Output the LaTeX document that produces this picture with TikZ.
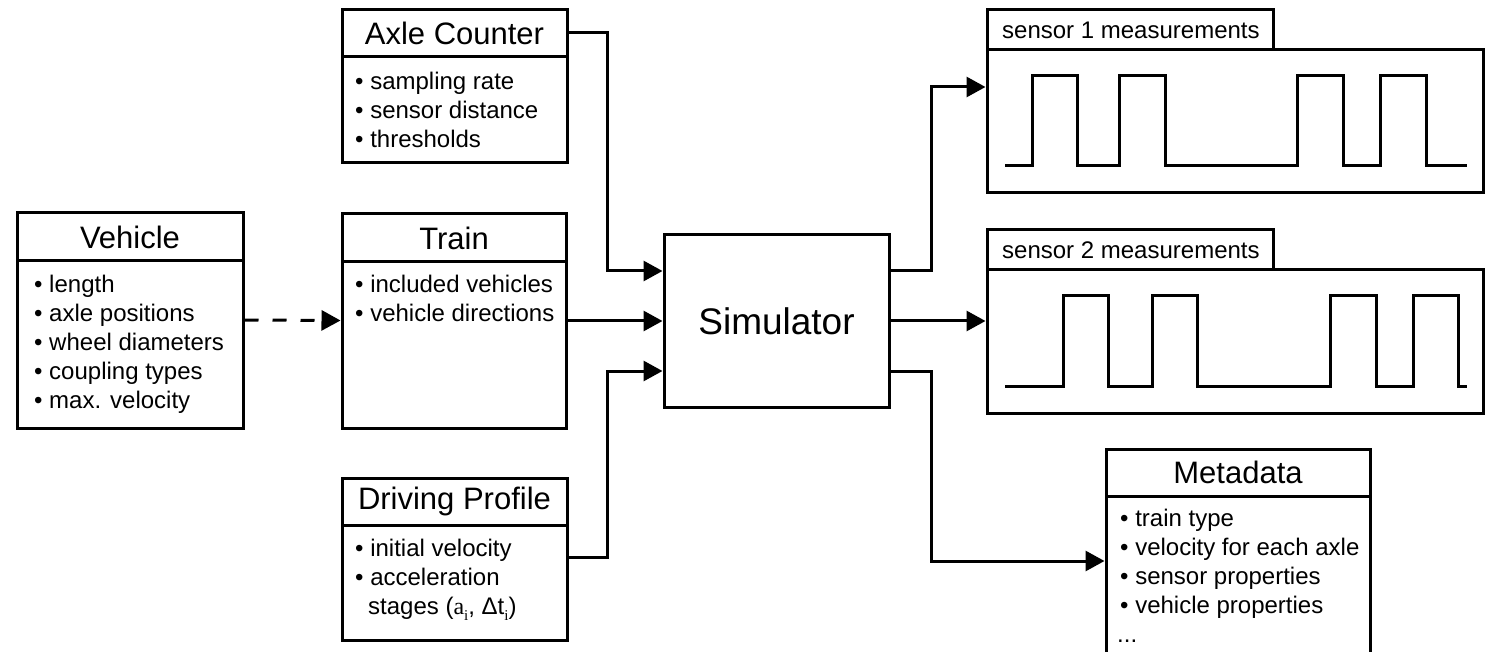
\documentclass[tikz,border=0pt]{standalone}
\usepackage{fontspec}
\setmainfont{Liberation Sans}
\newfontfamily\mathlike{Liberation Serif}
\usetikzlibrary{arrows.meta}

\newcommand{\sub}[1]{\raisebox{-0.22em}{\mathlike\fontsize{15}{15}\selectfont #1}}

\tikzset{
  box/.style={draw, line width=3pt, inner sep=0pt, fill=white},
  titlebox/.style={box, font=\fontsize{31}{36}\selectfont},
  tabbox/.style={box, font=\fontsize{24}{29}\selectfont},
  bodybox/.style={box},
  items/.style={anchor=north west, inner sep=0pt, align=left,
                font=\fontsize{24}{29}\selectfont},
  arr/.style={line width=3pt, -{Triangle[length=19pt,width=20pt]}},
  dasharr/.style={arr, dash pattern=on 14pt off 14pt},
  signal/.style={line width=3pt},
}

% box spanning (x1,y1)--(x2,y2) in pixel coordinates, y downwards
\newcommand{\boxat}[6]{%
  \node[#2, minimum width={#5-#3}, minimum height={#6-#4}]
    (#1) at ({(#3+#5)/2},{(#4+#6)/2}) {};}

\begin{document}
\begin{tikzpicture}[x=1pt, y=-1pt]
\clip (0,0) rectangle (1494,652);
\fill[white] (0,0) rectangle (1494,652);

% ---------- Vehicle ----------
\node[titlebox, minimum width=226pt, minimum height=48pt] (vtitle) at (130,237) {Vehicle};
\node[bodybox, minimum width=226pt, minimum height=167pt] (vbody) at (130,344.5) {};
\node[items] (vitems) at (34,271.7) {\strut• length\\• axle positions\\• wheel diameters\\• coupling types\\• max. velocity};

% ---------- Train ----------
\node[titlebox, minimum width=224pt, minimum height=48pt] (ttitle) at (454,238) {Train};
\node[bodybox, minimum width=224pt, minimum height=166pt] (tbody) at (454,345) {};
\node[items] (titems) at (355,271.7) {\strut• included vehicles\\• vehicle directions};

% ---------- Axle Counter ----------
\node[titlebox, minimum width=225pt, minimum height=47pt] (atitle) at (454.5,33.5) {Axle Counter};
\node[bodybox, minimum width=225pt, minimum height=106pt] (abody) at (454.5,110) {};
\node[items] (aitems) at (355,68.7) {\strut• sampling rate\\• sensor distance\\• thresholds};

% ---------- Driving Profile ----------
\node[titlebox, minimum width=225pt, minimum height=47pt] (dtitle) at (454.5,501.5) {Driving Profile};
\node[bodybox, minimum width=225pt, minimum height=115pt] (dbody) at (454.5,582.5) {};
\node[items] (ditems) at (355,536.4) {\strut• initial velocity\\• acceleration\\\hspace*{13pt}stages ({\mathlike a}\sub{i}, Δt\sub{i})};

% ---------- Simulator ----------
\node[box, minimum width=225pt, minimum height=172pt, font=\fontsize{37}{44}\selectfont] (sim) at (776.5,321) {Simulator};

% ---------- Sensor 1 ----------
\node[bodybox, minimum width=496pt, minimum height=143pt] (s1box) at (1235,121.5) {};
\node[tabbox, minimum width=286pt, minimum height=40pt] (s1tab) at (1130,30) {};
\node[anchor=base west, inner sep=0pt, font=\fontsize{24}{29}\selectfont] (s1lbl) at (1002,39) {sensor 1 measurements};
\draw[signal] (1005,166) -- (1032,166) -- (1032,76) -- (1077,76) -- (1077,166)
  -- (1119,166) -- (1119,76) -- (1165,76) -- (1165,166)
  -- (1297,166) -- (1297,76) -- (1343,76) -- (1343,166)
  -- (1380,166) -- (1380,76) -- (1426,76) -- (1426,166) -- (1467,166);

% ---------- Sensor 2 ----------
\node[bodybox, minimum width=496pt, minimum height=143pt] (s2box) at (1235,341.5) {};
\node[tabbox, minimum width=286pt, minimum height=40pt] (s2tab) at (1130,250) {};
\node[anchor=base west, inner sep=0pt, font=\fontsize{24}{29}\selectfont] (s2lbl) at (1002,259) {sensor 2 measurements};
\draw[signal] (1005,386) -- (1063,386) -- (1063,296) -- (1108,296) -- (1108,386)
  -- (1152,386) -- (1152,296) -- (1197,296) -- (1197,386)
  -- (1330,386) -- (1330,296) -- (1376,296) -- (1376,386)
  -- (1413,386) -- (1413,296) -- (1458,296) -- (1458,386) -- (1467,386);

% ---------- Metadata ----------
\node[titlebox, minimum width=264pt, minimum height=47pt] (mtitle) at (1238,472.5) {Metadata};
\node[bodybox, minimum width=264pt, minimum height=200pt] (mbody) at (1238,596) {};
\node[items] (mitems) at (1120,505.7) {\strut• train type\\• velocity for each axle\\• sensor properties\\• vehicle properties\\\hspace*{-3pt}...};

% ---------- connectors ----------
\coordinate (inbend) at (607.5,0);
\coordinate (outbend) at (931,0);

\draw[dasharr] ([yshift=24.5pt]vbody.east) -- ([yshift=24.5pt]tbody.west);
\draw[arr] (tbody.east |- sim.west) -- (sim.west);
\draw[arr] ([yshift=23pt]abody.north east) -- ([yshift=23pt]abody.north east -| inbend)
  |- ([yshift=50pt]sim.west);
\draw[arr] ([yshift=-33.5pt]dbody.north east) -- ([yshift=-33.5pt]dbody.north east -| inbend)
  |- ([yshift=-50pt]sim.west);

\draw[arr] ([yshift=50pt]sim.east) -- ([yshift=50pt]sim.east -| outbend)
  |- ([yshift=34.5pt]s1box.west);
\draw[arr] (sim.east) -- (sim.east -| s2box.west);
\draw[arr] ([yshift=-50pt]sim.east) -- ([yshift=-50pt]sim.east -| outbend)
  |- ([yshift=-63.5pt]mtitle.south west);
\end{tikzpicture}
\end{document}
